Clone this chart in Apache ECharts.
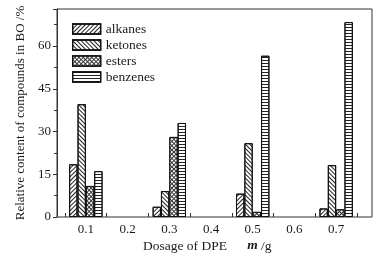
<!DOCTYPE html>
<html><head><meta charset="utf-8">
<script src="https://cdn.jsdelivr.net/npm/echarts@6/dist/echarts.min.js"></script>
<style>html,body{margin:0;padding:0;background:#fff}#c{width:386px;height:257px}</style>
</head><body><div id="c"></div>
<script>
var categories = ['0.1','0.2','0.3','0.4','0.5','0.6','0.7'];
var alkanes  = [18.5, null, 3.6, null, 8.2, null, 3.0];
var ketones  = [39.6, null, 9.1, null, 25.9, null, 18.2];
var esters   = [10.9, null, 28.1, null, 1.8, null, 2.7];
var benzenes = [16.1, null, 33.0, null, 56.6, null, 68.4];
var yTicks = [0, 15, 30, 45, 60];

var FONT = '"Liberation Serif", "DejaVu Serif", serif';
var TXT = '#1a1a1a';
var decals = {
  alkanes:  {symbol:'rect', symbolSize:1, color:'#222', dashArrayX:[1,0], dashArrayY:[1,2], rotation:-Math.PI/4},
  ketones:  {symbol:'rect', symbolSize:1, color:'#222', dashArrayX:[1,0], dashArrayY:[1,2], rotation:Math.PI/4},
  esters:   {symbol:'rect', symbolSize:1, color:'#fff', backgroundColor:'#333', dashArrayX:[2,1], dashArrayY:[2,1], rotation:Math.PI/4},
  benzenes: {symbol:'rect', symbolSize:1, color:'#222', dashArrayX:[1,0], dashArrayY:[1,1.5], rotation:0}
};
function mk(name, data){
  return {name:name, type:'bar', xAxisIndex:0, yAxisIndex:0, data:data,
    barGap:'0%', barCategoryGap:'20%',
    itemStyle:{color:'#fff', borderColor:'#111', borderWidth:1, decal:decals[name]},
    emphasis:{disabled:true}};
}
var chart = echarts.init(document.getElementById('c'), null, {renderer:'canvas'});
chart.setOption({
  animation:false,
  aria:{enabled:false},
  grid:[
    {left:65, right:29, top:9, bottom:40},
    {left:57, right:14, top:9, bottom:40, show:true, borderColor:'#333', borderWidth:1, backgroundColor:'transparent'}
  ],
  legend:{
    orient:'vertical', left:72, top:22, padding:0, itemWidth:28, itemHeight:10, itemGap:2,
    icon:'rect',
    itemStyle:{borderColor:'#111', borderWidth:1.3},
    textStyle:{fontFamily:FONT, fontSize:13.5, color:TXT},
    data:['alkanes','ketones','esters','benzenes']
  },
  xAxis:[
    {type:'category', gridIndex:0, data:categories,
     axisLine:{show:false},
     axisTick:{show:true, inside:true, length:4, lineStyle:{color:'#333'}},
     axisLabel:{fontFamily:FONT, fontSize:13, color:TXT, margin:6},
     splitLine:{show:false}},
    {type:'value', gridIndex:1, show:false, min:0, max:1}
  ],
  yAxis:[
    {type:'value', gridIndex:0, min:0, max:73, interval:15, show:false},
    {type:'value', gridIndex:1, min:0, max:73, interval:15,
     axisLine:{show:true, lineStyle:{color:'#333'}},
     axisTick:{show:true, inside:false, length:4, lineStyle:{color:'#333'}},
     minorTick:{show:true, splitNumber:2, length:3, lineStyle:{color:'#333'}},
     splitLine:{show:false},
     axisLabel:{fontFamily:FONT, fontSize:13, color:TXT, margin:6,
       formatter:function(v){return yTicks.indexOf(v)>=0 ? String(v) : '';}},
     name:'Relative content of compounds in BO /%', nameLocation:'middle', nameGap:29,
     nameTextStyle:{fontFamily:FONT, fontSize:13, color:TXT}}
  ],
  graphic:[{
    type:'text', left:143, top:239,
    style:{
      text:'{a|Dosage of DPE}{s|      }{b|m}{a| /g}',
      rich:{
        a:{fontFamily:FONT, fontSize:13.5, fill:TXT},
        s:{fontFamily:FONT, fontSize:13.5},
        b:{fontFamily:FONT, fontSize:13.5, fontStyle:'italic', fontWeight:'bold', fill:TXT}
      }
    }
  }],
  series:[mk('alkanes',alkanes), mk('ketones',ketones), mk('esters',esters), mk('benzenes',benzenes)]
});
</script></body></html>
